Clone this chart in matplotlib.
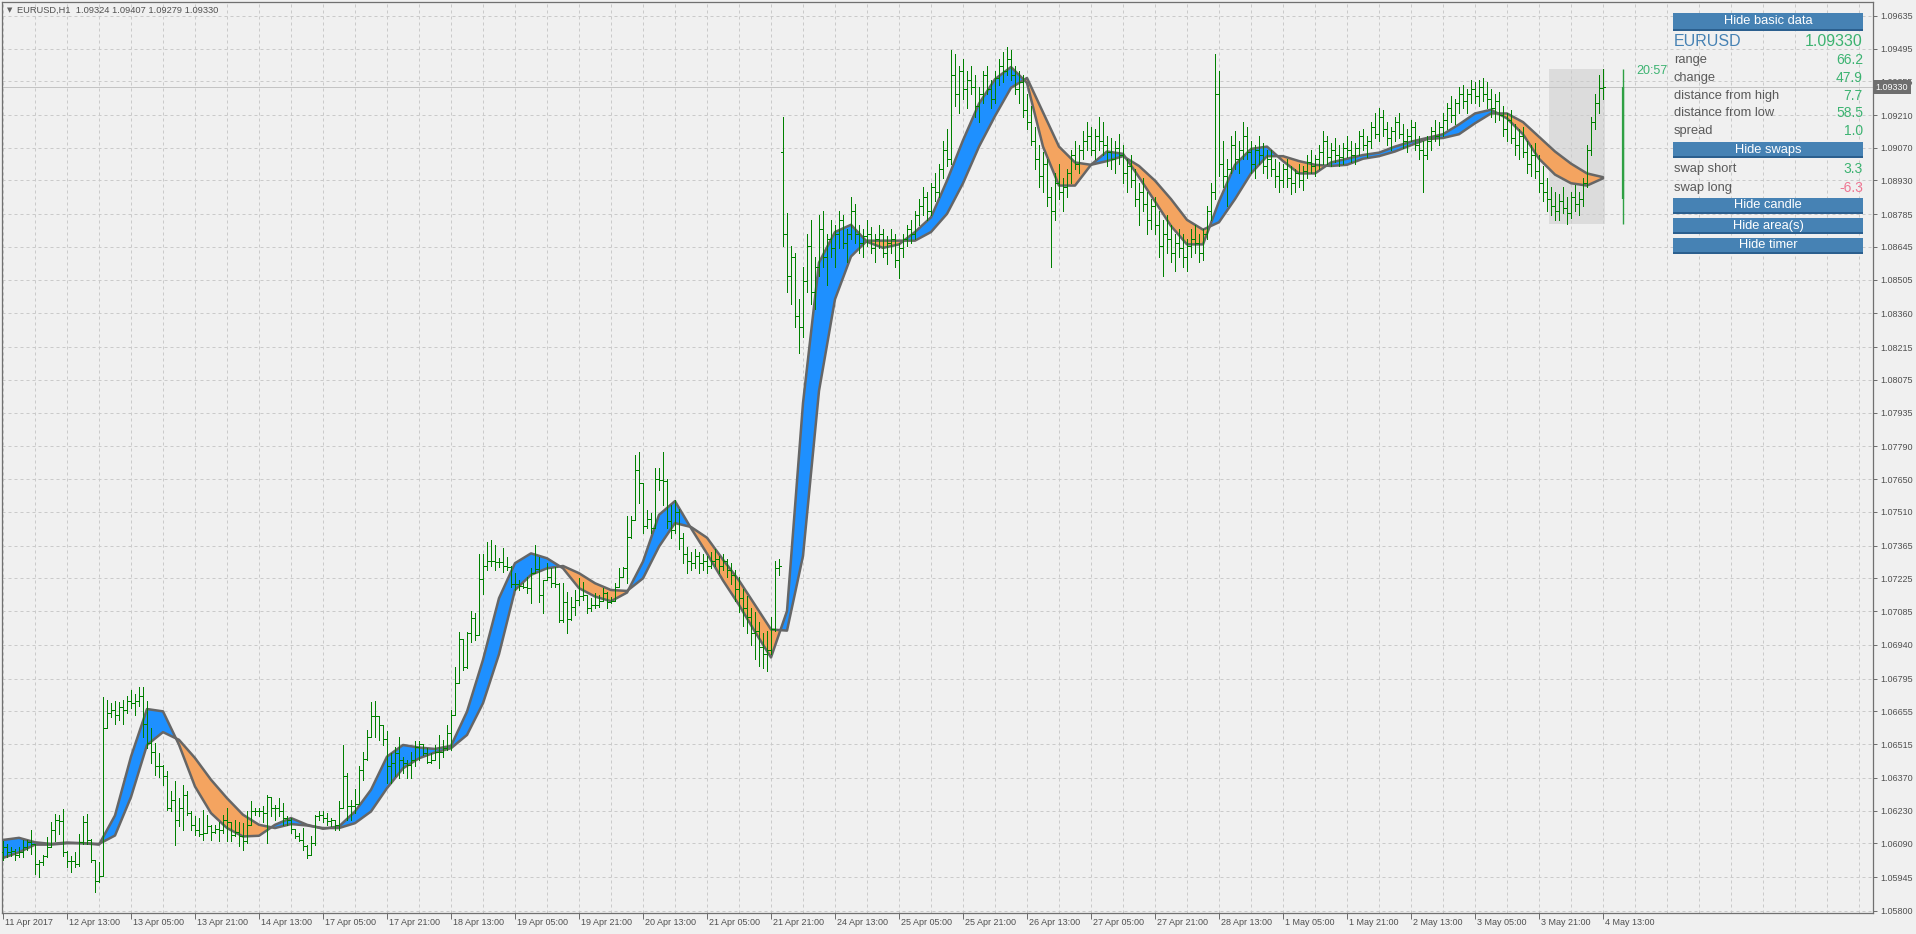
import numpy as np
import matplotlib.pyplot as plt
from matplotlib.collections import LineCollection
from matplotlib.patches import Rectangle

plt.rcParams['font.family'] = ['Liberation Sans', 'DejaVu Sans']

symbol = "EURUSD"
period = "H1"
base = 1.05     # bar values below are points (1e-5) above this level
pt = 1e-5

# H1 bars, one row = 16 bars (one x label step)
opens = [
    1051, 1073, 1051, 1058, 1041, 1051, 1073, 1094, 1087, 1001, 1011, 1037, 1073, 1145, 1188, 1185,
    1051, 1015, 1012, 1001, 1094, 1180, 1104, 1018, 929, 951, 1583, 1650, 1660, 1640, 1675, 1660,
    1700, 1690, 1700, 1720, 1600, 1520, 1480, 1422, 1420, 1377, 1240, 1276, 1188, 1240, 1297, 1220,
    1169, 1148, 1130, 1133, 1162, 1140, 1150, 1148, 1190, 1180, 1126, 1140, 1119, 1100, 1169, 1226,
    1230, 1226, 1220, 1290, 1240, 1240, 1226, 1200, 1190, 1150, 1120, 1105, 1076, 1040, 1090, 1205,
    1210, 1200, 1185, 1190, 1170, 1240, 1376, 1250, 1250, 1260, 1404, 1450, 1547, 1633, 1633, 1597,
    1536, 1419, 1433, 1476, 1447, 1433, 1426, 1447, 1504, 1514, 1476, 1436, 1447, 1483, 1480, 1497,
    1561, 1640, 1776, 1964, 1844, 1990, 2054, 1983, 2221, 2280, 2300, 2300, 2293, 2293, 2278, 2273,
    2200, 2201, 2194, 2190, 2182, 2250, 2264, 2154, 2218, 2232, 2204, 2200, 2047, 2125, 2050, 2104,
    2133, 2150, 2154, 2097, 2110, 2111, 2130, 2161, 2125, 2130, 2190, 2230, 2268, 2404, 2475, 2690,
    2632, 2450, 2480, 2440, 2650, 2647, 2640, 2470, 2430, 2510, 2400, 2330, 2300, 2290, 2320, 2290,
    2300, 2280, 2300, 2310, 2280, 2300, 2260, 2240, 2180, 2140, 2100, 2060, 1990, 2000, 1930, 1900,
    1920, 2010, 2270, 4050, 3700, 3520, 3600, 3350, 3300, 3500, 3650, 3450, 3560, 3720, 3600, 3680,
    3640, 3700, 3760, 3660, 3700, 3800, 3700, 3660, 3690, 3700, 3640, 3680, 3700, 3620, 3660, 3680,
    3590, 3640, 3680, 3720, 3700, 3780, 3820, 3860, 3800, 3900, 3880, 3980, 4060, 4020, 4380, 4300,
    4400, 4320, 4360, 4330, 4250, 4300, 4380, 4320, 4280, 4370, 4420, 4400, 4450, 4380, 4320, 4350,
    4230, 4180, 4100, 4020, 3950, 4000, 3860, 3800, 3920, 3880, 3900, 3960, 4040, 4000, 4060, 4100,
    4120, 4060, 4120, 4100, 4080, 4050, 4020, 4070, 4040, 3960, 3990, 3930, 3850, 3880, 3830, 3760,
    3820, 3740, 3650, 3700, 3680, 3620, 3660, 3640, 3600, 3650, 3680, 3660, 3620, 3700, 3800, 3880,
    4300, 4000, 3950, 3980, 4080, 4020, 4060, 4120, 4050, 4000, 4060, 4040, 3990, 4020, 3980, 3950,
    3930, 3980, 3940, 3920, 3960, 3930, 3970, 4010, 3990, 4020, 4050, 4100, 4030, 4060, 4040, 4030,
    4070, 4060, 4040, 4070, 4120, 4080, 4100, 4160, 4130, 4200, 4150, 4110, 4140, 4180, 4130, 4100,
    4120, 4160, 4080, 4060, 4040, 4100, 4140, 4120, 4160, 4190, 4240, 4210, 4260, 4300, 4270, 4300,
    4320, 4290, 4330, 4300, 4280, 4240, 4270, 4210, 4150, 4190, 4110, 4080, 4120, 4050, 4000, 4040,
    3970, 3920, 3880, 3851, 3820, 3800, 3840, 3810, 3790, 3860, 3830, 3850, 3920, 4060, 4180, 4260,
    4324,
]
highs = [
    1099, 1087, 1073, 1066, 1073, 1104, 1104, 1147, 1087, 1018, 1041, 1116, 1180, 1216, 1209, 1235,
    1055, 1037, 1051, 1130, 1205, 1216, 1109, 1018, 1008, 1715, 1705, 1690, 1700, 1695, 1705, 1720,
    1745, 1730, 1760, 1760, 1700, 1583, 1518, 1475, 1425, 1400, 1312, 1355, 1283, 1340, 1312, 1226,
    1205, 1198, 1233, 1212, 1169, 1169, 1183, 1212, 1240, 1180, 1190, 1183, 1176, 1226, 1269, 1240,
    1240, 1248, 1297, 1290, 1255, 1283, 1262, 1205, 1198, 1150, 1133, 1155, 1083, 1119, 1212, 1226,
    1226, 1219, 1198, 1190, 1269, 1511, 1390, 1276, 1322, 1419, 1483, 1576, 1697, 1700, 1633, 1597,
    1569, 1476, 1504, 1547, 1461, 1447, 1483, 1526, 1526, 1514, 1497, 1476, 1511, 1554, 1533, 1597,
    1661, 1847, 1997, 1964, 1997, 2083, 2076, 2330, 2330, 2380, 2390, 2370, 2311, 2354, 2318, 2278,
    2247, 2218, 2204, 2232, 2268, 2368, 2318, 2220, 2290, 2268, 2275, 2204, 2204, 2168, 2147, 2175,
    2225, 2211, 2154, 2140, 2161, 2154, 2183, 2168, 2147, 2204, 2268, 2275, 2490, 2490, 2754, 2768,
    2632, 2518, 2504, 2697, 2697, 2768, 2650, 2540, 2560, 2520, 2420, 2360, 2340, 2350, 2340, 2330,
    2320, 2340, 2350, 2320, 2330, 2310, 2290, 2260, 2230, 2180, 2150, 2100, 2080, 2040, 1990, 2000,
    2060, 2300, 2310, 4200, 3790, 3650, 3620, 3420, 3560, 3700, 3760, 3600, 3780, 3800, 3700, 3760,
    3740, 3800, 3780, 3720, 3860, 3830, 3740, 3720, 3760, 3730, 3700, 3740, 3720, 3690, 3720, 3700,
    3660, 3700, 3740, 3760, 3800, 3850, 3900, 3880, 3920, 3960, 4000, 4100, 4150, 4490, 4470, 4420,
    4450, 4400, 4420, 4380, 4330, 4400, 4420, 4360, 4400, 4450, 4480, 4500, 4490, 4420, 4400, 4380,
    4300, 4250, 4160, 4080, 4050, 4020, 3900, 3960, 4000, 3940, 3980, 4060, 4100, 4080, 4140, 4180,
    4160, 4150, 4200, 4180, 4120, 4110, 4100, 4130, 4080, 4020, 4040, 3980, 3920, 3940, 3880, 3850,
    3860, 3800, 3760, 3780, 3740, 3700, 3720, 3700, 3680, 3720, 3740, 3700, 3720, 3820, 3920, 4470,
    4400, 4100, 4020, 4120, 4140, 4100, 4180, 4160, 4100, 4080, 4120, 4090, 4060, 4060, 4020, 4010,
    4000, 4020, 3990, 3980, 4000, 3990, 4040, 4060, 4040, 4080, 4140, 4120, 4090, 4110, 4080, 4090,
    4120, 4100, 4090, 4140, 4150, 4120, 4180, 4220, 4240, 4230, 4180, 4160, 4200, 4220, 4170, 4150,
    4190, 4180, 4120, 4100, 4120, 4160, 4190, 4180, 4220, 4260, 4290, 4280, 4330, 4340, 4320, 4360,
    4350, 4360, 4370, 4350, 4320, 4300, 4310, 4250, 4220, 4230, 4170, 4150, 4160, 4100, 4080, 4090,
    4040, 3990, 3940, 3900, 3880, 3870, 3900, 3860, 3880, 3910, 3880, 3940, 4080, 4200, 4300, 4380,
    4407,
]
lows = [
    1018, 1030, 1037, 1018, 1030, 1030, 1061, 1044, 958, 946, 995, 1030, 1073, 1101, 1130, 1037,
    987, 965, 987, 994, 1087, 1087, 1008, 879, 922, 951, 1583, 1630, 1600, 1620, 1600, 1650,
    1670, 1640, 1680, 1545, 1497, 1432, 1382, 1375, 1340, 1231, 1226, 1083, 1162, 1148, 1212, 1148,
    1126, 1119, 1105, 1133, 1105, 1133, 1098, 1133, 1098, 1098, 1119, 1076, 1062, 1090, 1169, 1212,
    1205, 1183, 1090, 1205, 1190, 1205, 1169, 1169, 1133, 1112, 1098, 1062, 1026, 1040, 1083, 1190,
    1183, 1169, 1162, 1148, 1148, 1240, 1190, 1190, 1219, 1260, 1361, 1447, 1547, 1547, 1533, 1511,
    1347, 1347, 1376, 1369, 1390, 1369, 1369, 1419, 1447, 1469, 1433, 1433, 1447, 1411, 1461, 1490,
    1490, 1640, 1776, 1833, 1840, 1954, 1961, 1983, 2160, 2260, 2280, 2261, 2275, 2254, 2261, 2190,
    2175, 2175, 2182, 2161, 2118, 2247, 2125, 2075, 2218, 2190, 2190, 2040, 2040, 1990, 2047, 2068,
    2111, 2133, 2075, 2083, 2097, 2104, 2130, 2097, 2118, 2130, 2190, 2230, 2204, 2400, 2475, 2547,
    2418, 2440, 2418, 2440, 2604, 2540, 2440, 2400, 2420, 2350, 2290, 2250, 2260, 2270, 2250, 2260,
    2250, 2270, 2280, 2250, 2260, 2230, 2200, 2130, 2080, 2020, 1990, 1940, 1880, 1850, 1840, 1830,
    1900, 2000, 2240, 3650, 3450, 3400, 3300, 3190, 3260, 3450, 3400, 3380, 3520, 3560, 3480, 3600,
    3560, 3640, 3640, 3580, 3680, 3660, 3620, 3600, 3650, 3620, 3580, 3640, 3600, 3570, 3620, 3560,
    3510, 3600, 3650, 3660, 3680, 3740, 3780, 3760, 3780, 3840, 3860, 3940, 3990, 4000, 4250, 4220,
    4280, 4240, 4300, 4200, 4180, 4260, 4300, 4240, 4260, 4340, 4350, 4380, 4360, 4300, 4260, 4200,
    4150, 4080, 3980, 3900, 3880, 3820, 3560, 3760, 3850, 3800, 3860, 3920, 3980, 3960, 4020, 4060,
    4040, 4020, 4060, 4040, 3990, 3980, 3960, 4000, 3920, 3880, 3900, 3820, 3740, 3800, 3700, 3720,
    3700, 3600, 3520, 3620, 3580, 3540, 3600, 3560, 3540, 3600, 3620, 3580, 3590, 3680, 3760, 3850,
    3950, 3900, 3820, 3960, 3980, 3960, 4020, 4020, 3960, 3940, 4000, 3960, 3940, 3950, 3900, 3880,
    3900, 3900, 3870, 3880, 3900, 3890, 3940, 3960, 3950, 3980, 4000, 4000, 3990, 4010, 3990, 4000,
    4030, 4010, 4000, 4040, 4060, 4030, 4070, 4110, 4100, 4120, 4080, 4060, 4100, 4110, 4070, 4050,
    4100, 4060, 4020, 3880, 4020, 4060, 4100, 4080, 4120, 4150, 4180, 4170, 4220, 4240, 4220, 4260,
    4260, 4250, 4270, 4240, 4200, 4180, 4190, 4120, 4100, 4090, 4040, 4020, 4030, 3960, 3950, 3940,
    3880, 3840, 3800, 3780, 3760, 3760, 3790, 3745, 3770, 3800, 3780, 3820, 3900, 4040, 4150, 4220,
    4279,
]
closes = [
    1073, 1051, 1058, 1041, 1051, 1073, 1094, 1087, 1001, 1011, 1037, 1073, 1145, 1188, 1185, 1051,
    1015, 1012, 1001, 1094, 1180, 1104, 1018, 929, 951, 1583, 1650, 1660, 1640, 1675, 1660, 1700,
    1690, 1700, 1720, 1600, 1520, 1480, 1422, 1420, 1377, 1240, 1276, 1188, 1240, 1297, 1220, 1169,
    1148, 1130, 1133, 1162, 1140, 1150, 1148, 1190, 1180, 1126, 1140, 1119, 1100, 1169, 1226, 1230,
    1226, 1220, 1290, 1240, 1240, 1226, 1200, 1190, 1150, 1120, 1105, 1076, 1040, 1090, 1205, 1210,
    1200, 1185, 1190, 1170, 1240, 1376, 1250, 1250, 1260, 1404, 1450, 1547, 1633, 1633, 1597, 1536,
    1419, 1433, 1476, 1447, 1433, 1426, 1447, 1504, 1514, 1476, 1436, 1447, 1483, 1480, 1497, 1561,
    1640, 1776, 1964, 1844, 1990, 2054, 1983, 2221, 2280, 2300, 2300, 2293, 2293, 2278, 2273, 2200,
    2201, 2194, 2190, 2182, 2250, 2264, 2154, 2218, 2232, 2204, 2200, 2047, 2125, 2050, 2104, 2133,
    2150, 2154, 2097, 2110, 2111, 2130, 2161, 2125, 2130, 2190, 2230, 2268, 2404, 2475, 2690, 2632,
    2450, 2480, 2440, 2650, 2647, 2640, 2470, 2430, 2510, 2400, 2330, 2300, 2290, 2320, 2290, 2300,
    2280, 2300, 2310, 2280, 2300, 2260, 2240, 2180, 2140, 2100, 2060, 1990, 2000, 1930, 1900, 1920,
    2010, 2270, 2280, 3700, 3520, 3600, 3350, 3300, 3500, 3650, 3450, 3560, 3720, 3600, 3680, 3640,
    3700, 3760, 3660, 3700, 3800, 3700, 3660, 3690, 3700, 3640, 3680, 3700, 3620, 3660, 3680, 3590,
    3640, 3680, 3720, 3700, 3780, 3820, 3860, 3800, 3900, 3880, 3980, 4060, 4020, 4380, 4300, 4400,
    4320, 4360, 4330, 4250, 4300, 4380, 4320, 4280, 4370, 4420, 4400, 4450, 4380, 4320, 4350, 4230,
    4180, 4100, 4020, 3950, 4000, 3860, 3800, 3920, 3880, 3900, 3960, 4040, 4000, 4060, 4100, 4120,
    4060, 4120, 4100, 4080, 4050, 4020, 4070, 4040, 3960, 3990, 3930, 3850, 3880, 3830, 3760, 3820,
    3740, 3650, 3700, 3680, 3620, 3660, 3640, 3600, 3650, 3680, 3660, 3620, 3700, 3800, 3880, 4300,
    4000, 3950, 3980, 4080, 4020, 4060, 4120, 4050, 4000, 4060, 4040, 3990, 4020, 3980, 3950, 3930,
    3980, 3940, 3920, 3960, 3930, 3970, 4010, 3990, 4020, 4050, 4100, 4030, 4060, 4040, 4030, 4070,
    4060, 4040, 4070, 4120, 4080, 4100, 4160, 4130, 4200, 4150, 4110, 4140, 4180, 4130, 4100, 4120,
    4160, 4080, 4060, 4040, 4100, 4140, 4120, 4160, 4190, 4240, 4210, 4260, 4300, 4270, 4300, 4320,
    4290, 4330, 4300, 4280, 4240, 4270, 4210, 4150, 4190, 4110, 4080, 4120, 4050, 4000, 4040, 3970,
    3920, 3880, 3850, 3820, 3800, 3840, 3810, 3790, 3860, 3830, 3850, 3920, 4060, 4180, 4260, 4324,
    4330,
]

# the two smoothed lines, read every 4th bar
ma_step = 4
ma_fast = [
    1104, 1113, 1094, 1087, 1093, 1090, 1084, 1209, 1461, 1665, 1655, 1512, 1333, 1219, 1155, 1119,
    1122, 1169, 1198, 1169, 1152, 1162, 1226, 1319, 1461, 1511, 1500, 1494, 1507, 1654, 1876, 2140,
    2290, 2332, 2311, 2268, 2183, 2147, 2127, 2164, 2297, 2497, 2556, 2440, 2331, 2216, 2111, 1996,
    1886, 2085, 2976, 3578, 3709, 3740, 3667, 3641, 3656, 3709, 3772, 3929, 4102, 4259, 4364, 4416,
    4348, 4075, 3908, 3908, 3997, 4054, 4044, 3944, 3840, 3735, 3656, 3656, 3840, 3997, 4065, 4075,
    4013, 3960, 3960, 4007, 4023, 4039, 4049, 4075, 4096, 4112, 4128, 4170, 4217, 4233, 4196, 4128,
    4023, 3955, 3918, 3908, 3939,
]
ma_slow = [
    1027, 1051, 1084, 1084, 1090, 1090, 1087, 1123, 1288, 1511, 1566, 1533, 1455, 1362, 1283, 1212,
    1169, 1155, 1172, 1166, 1155, 1155, 1176, 1226, 1326, 1411, 1454, 1479, 1497, 1554, 1690, 1900,
    2175, 2240, 2268, 2278, 2247, 2204, 2175, 2171, 2225, 2361, 2462, 2445, 2399, 2305, 2216, 2111,
    2006, 2001, 2321, 3028, 3421, 3604, 3672, 3672, 3672, 3672, 3709, 3787, 3918, 4075, 4206, 4327,
    4369, 4222, 4075, 4007, 3997, 4013, 4034, 3992, 3929, 3850, 3761, 3719, 3751, 3850, 3960, 4034,
    4034, 4013, 3997, 3992, 3997, 4023, 4034, 4054, 4081, 4107, 4112, 4128, 4175, 4217, 4217, 4180,
    4117, 4054, 4002, 3960, 3944,
]

label_step = 16
x_labels = ["11 Apr 2017", "12 Apr 13:00", "13 Apr 05:00", "13 Apr 21:00", "14 Apr 13:00",
            "17 Apr 05:00", "17 Apr 21:00", "18 Apr 13:00", "19 Apr 05:00", "19 Apr 21:00",
            "20 Apr 13:00", "21 Apr 05:00", "21 Apr 21:00", "24 Apr 13:00", "25 Apr 05:00",
            "25 Apr 21:00", "26 Apr 13:00", "27 Apr 05:00", "27 Apr 21:00", "28 Apr 13:00",
            "1 May 05:00", "1 May 21:00", "2 May 13:00", "3 May 05:00", "3 May 21:00",
            "4 May 13:00"]
y_ticks = [1.05800, 1.05945, 1.06090, 1.06230, 1.06370, 1.06515, 1.06655, 1.06795, 1.06940,
           1.07085, 1.07225, 1.07365, 1.07510, 1.07650, 1.07790, 1.07935, 1.08075, 1.08215,
           1.08360, 1.08505, 1.08645, 1.08785, 1.08930, 1.09070, 1.09210, 1.09355, 1.09495,
           1.09635]

day_start = 387                 # first bar of 4 May
day_open = 1.08851
day_high = 1.09407
day_low = 1.08745
spread = "1.0"
swap_short = "3.3"
swap_long = "-6.3"
timer = "20:57"

BG = '#F0F0F0'
GRID = '#CACACA'
TXT = '#505050'
BAR = '#008000'
UP = '#1E90FF'
DN = '#F4A460'
EDGE = '#666666'
GREEN_TXT = '#3CB371'
BTN = '#4682B4'

o = base + np.array(opens) * pt
h = base + np.array(highs) * pt
l = base + np.array(lows) * pt
c = base + np.array(closes) * pt
idx = np.arange(len(o))
fast = base + np.array(ma_fast) * pt
slow = base + np.array(ma_slow) * pt
xm = np.arange(len(fast)) * ma_step
last = c[-1]

W, H = 1916, 934
fig = plt.figure(figsize=(W / 100, H / 100), dpi=100, facecolor=BG)
ax = fig.add_axes([2 / W, (H - 913) / H, 1871 / W, 911 / H])
ax.set_facecolor(BG)
ax.set_xlim(-0.25, 467.5)
ax.set_ylim(1.05791, 1.096946)

# grid
ax.set_xticks(np.arange(len(x_labels)) * label_step)
ax.set_xticklabels([])
ax.set_xticks([k for k in range(8, 468, 8) if k % 16 or k > 400], minor=True)
ax.set_yticks(y_ticks)
ax.set_yticklabels(['%.5f' % v for v in y_ticks])
ax.yaxis.tick_right()
ax.grid(which='both', axis='x', color=GRID, linestyle=(0, (3, 3)), linewidth=0.72, zorder=0)
ax.grid(which='major', axis='y', color=GRID, linestyle=(0, (3, 3)), linewidth=0.72, zorder=0)
ax.set_axisbelow(True)
ax.tick_params(axis='x', which='major', length=4, width=0.72, color='#707070')
ax.tick_params(axis='x', which='minor', length=0)
ax.tick_params(axis='y', length=3, width=0.72, color='#707070', labelsize=6.5,
               labelcolor=TXT, pad=2)
for s in ax.spines.values():
    s.set_color('#707070')
    s.set_linewidth(0.9)

for k, lab in enumerate(x_labels):
    ax.text(k * label_step + 0.5, -0.0099, lab, transform=ax.get_xaxis_transform(),
            ha='left', va='center', fontsize=6.5, color=TXT, clip_on=False)

# today's range box and current price line
ax.add_patch(Rectangle((day_start - 0.5, day_low), idx[-1] - day_start + 1.0,
                       day_high - day_low, facecolor='#DCDCDC', edgecolor='none', zorder=0.5))
ax.axhline(last, color='#C4C4C4', linewidth=0.72, zorder=1)

# smoothed band
ax.fill_between(xm, fast, slow, where=fast >= slow, interpolate=True, color=UP, lw=0, zorder=2)
ax.fill_between(xm, fast, slow, where=fast <= slow, interpolate=True, color=DN, lw=0, zorder=2)
ax.plot(xm, fast, color=EDGE, lw=1.8, zorder=3, solid_capstyle='round', solid_joinstyle='round')
ax.plot(xm, slow, color=EDGE, lw=1.8, zorder=3, solid_capstyle='round', solid_joinstyle='round')

# OHLC bars
segs = []
for i in idx:
    segs.append([(i, l[i]), (i, h[i])])
    segs.append([(i - 0.4, o[i]), (i, o[i])])
    segs.append([(i, c[i]), (i + 0.4, c[i])])
ax.add_collection(LineCollection(segs, colors=BAR, linewidths=0.7, antialiaseds=False, zorder=4))

# daily candle to the right of the last bar
cx = idx[-1] + 5
ax.vlines(cx, day_low, day_high, color='#2EA043', linewidth=1.0, zorder=4)
ax.vlines(cx, day_open, last, color='#2EA043', linewidth=1.6, zorder=4)

# price tag on the axis
ax.text(1.0015, last, '%.5f' % last, transform=ax.get_yaxis_transform(), ha='left',
        va='center', fontsize=6.5, color='white', clip_on=False, zorder=10,
        bbox=dict(boxstyle='square,pad=0.28', facecolor='#6E6E6E', edgecolor='none'))

# overlay in pixel units for the header, timer and info panel
ov = fig.add_axes([0, 0, 1, 1])
ov.set_xlim(0, W)
ov.set_ylim(H, 0)
ov.axis('off')
ov.patch.set_alpha(0)

ov.text(7, 10, u'\u25BC', fontsize=5, color='#606060', ha='left', va='center',
        family='DejaVu Sans')
ov.text(17, 10.5, '%s,%s  %.5f %.5f %.5f %.5f' % (symbol, period, o[-1], h[-1], l[-1], c[-1]),
        fontsize=6.7, color=TXT, ha='left', va='center')
ov.text(1636, 71, timer, fontsize=9, color=GREEN_TXT, ha='left', va='center')

px0, px1 = 1673, 1863


def button(y0, y1, label):
    ov.add_patch(Rectangle((px0, y0), px1 - px0, y1 - y0, facecolor=BTN, edgecolor='none'))
    ov.add_patch(Rectangle((px0, y1 - 2), px1 - px0, 2, facecolor='#2B5F8E', edgecolor='none'))
    ov.text((px0 + px1) / 2, (y0 + y1) / 2 - 0.5, label, fontsize=9.3, color='white',
            ha='center', va='center')


def row(y, label, value, vcolor=GREEN_TXT):
    ov.text(px0 + 1, y, label, fontsize=9.3, color='#5A5A5A', ha='left', va='center')
    ov.text(px1, y, value, fontsize=10, color=vcolor, ha='right', va='center')


button(13, 31, 'Hide basic data')
ov.text(px0 + 1, 42, symbol, fontsize=11.5, color=BTN, ha='left', va='center')
ov.text(px1, 42, '%.5f' % last, fontsize=11.5, color=GREEN_TXT, ha='right', va='center')
row(60, 'range', '%.1f' % ((day_high - day_low) * 1e4))
row(78, 'change', '%.1f' % ((last - day_open) * 1e4))
row(96, 'distance from high', '%.1f' % ((day_high - last) * 1e4))
row(113, 'distance from low', '%.1f' % ((last - day_low) * 1e4))
row(131, 'spread', spread)
button(142, 158, 'Hide swaps')
row(169, 'swap short', swap_short)
row(188, 'swap long', swap_long, '#EE7592')
button(198, 214, 'Hide candle')
button(218, 234, 'Hide area(s)')
button(238, 254, 'Hide timer')

fig.savefig('out.png', dpi=100, facecolor=BG)
